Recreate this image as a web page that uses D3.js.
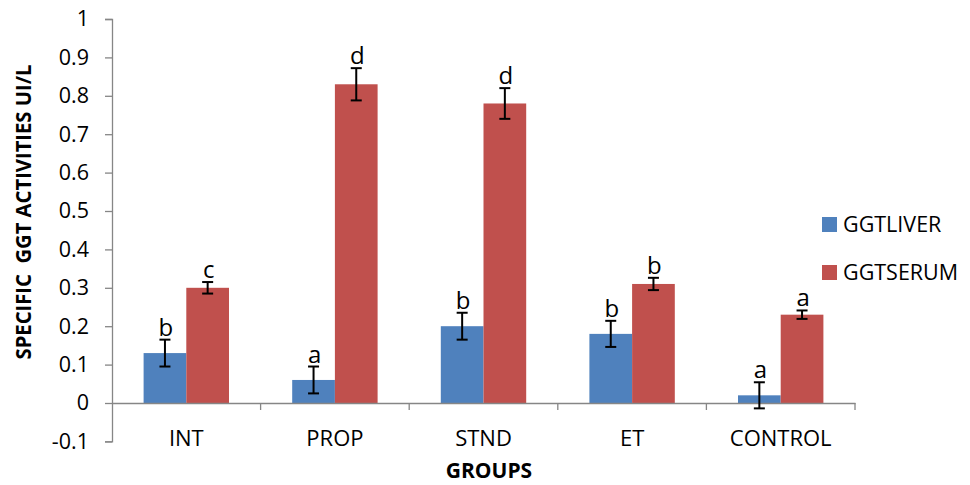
<!DOCTYPE html>
<html>
<head>
<meta charset="utf-8">
<script src="https://cdn.jsdelivr.net/npm/d3@7"></script>
<style>
  body { margin: 0; background: #fff; }
  svg text { font-family: "Open Sans", "Noto Sans", sans-serif; fill: #000; }
</style>
</head>
<body>
<div id="chart"></div>
<script>
// data
const groups = ['INT', 'PROP', 'STND', 'ET', 'CONTROL'];
const series = ['GGTLIVER', 'GGTSERUM'];
const liverValues = [0.13, 0.06, 0.20, 0.18, 0.02];
const serumValues = [0.30, 0.83, 0.78, 0.31, 0.23];
const liverErrors = [0.035, 0.035, 0.035, 0.034, 0.034];
const serumErrors = [0.015, 0.042, 0.040, 0.016, 0.011];
const liverLetters = ['b', 'a', 'b', 'b', 'a'];
const serumLetters = ['c', 'd', 'd', 'b', 'a'];
const yTicks = [-0.1, 0, 0.1, 0.2, 0.3, 0.4, 0.5, 0.6, 0.7, 0.8, 0.9, 1];

const colors = ['#4F81BD', '#C0504D'];
const axisColor = '#868686';

const width = 970, height = 485;
const plot = { left: 112, right: 855, top: 19, bottom: 441.4 };

const svg = d3.select('#chart')
    .append('svg')
    .attr('width', width)
    .attr('height', height);

const x0 = d3.scaleBand()
    .domain(groups)
    .range([plot.left, plot.right]);

const x1 = d3.scaleBand()
    .domain(series)
    .range([31.6, x0.bandwidth() - 31.6]);

const y = d3.scaleLinear()
    .domain([-0.1, 1])
    .range([plot.bottom, plot.top]);

// rows: one per group/series
const rows = [];
groups.forEach((g, i) => {
    rows.push({ group: g, s: series[0], v: liverValues[i], e: liverErrors[i], letter: liverLetters[i], color: colors[0] });
    rows.push({ group: g, s: series[1], v: serumValues[i], e: serumErrors[i], letter: serumLetters[i], color: colors[1] });
});

// bars
svg.append('g')
    .selectAll('rect')
    .data(rows)
    .enter()
    .append('rect')
    .attr('x', d => x0(d.group) + x1(d.s))
    .attr('y', d => y(Math.max(0, d.v)))
    .attr('width', x1.bandwidth())
    .attr('height', d => Math.abs(y(d.v) - y(0)))
    .attr('fill', d => d.color);

// y axis
const yAxis = d3.axisLeft(y)
    .tickValues(yTicks)
    .tickSize(7)
    .tickPadding(16)
    .tickFormat(d => String(+d.toFixed(1)));

const yG = svg.append('g')
    .attr('transform', `translate(${plot.left},0)`)
    .call(yAxis);
yG.select('.domain').attr('stroke', axisColor).attr('stroke-width', 1.3);
yG.selectAll('.tick line').attr('stroke', axisColor).attr('stroke-width', 1.3);
yG.selectAll('.tick text')
    .style('font-size', '21.5px')
    .attr('fill', '#000');

// x axis along zero
const xAxis = d3.axisBottom(x0)
    .tickSize(0)
    .tickPadding(0)
    .tickFormat('');
const xG = svg.append('g')
    .attr('transform', `translate(0,${y(0)})`)
    .call(xAxis);
xG.select('.domain').attr('stroke', axisColor).attr('stroke-width', 1.3);

// category boundary ticks
const bounds = groups.map(g => x0(g) + x0.bandwidth());
xG.selectAll('.bound')
    .data(bounds)
    .enter()
    .append('line')
    .attr('x1', d => d).attr('x2', d => d)
    .attr('y1', 0).attr('y2', 7)
    .attr('stroke', axisColor)
    .attr('stroke-width', 1.3);

// category labels
svg.append('g')
    .selectAll('text')
    .data(groups)
    .enter()
    .append('text')
    .attr('x', d => x0(d) + x0.bandwidth() / 2)
    .attr('y', 446)
    .attr('text-anchor', 'middle')
    .style('font-size', '22px')
    .text(d => d);

// error bars
const errG = svg.append('g');
rows.forEach(d => {
    const cx = x0(d.group) + x1(d.s) + x1.bandwidth() / 2;
    const yt = y(d.v + d.e), yb = y(d.v - d.e);
    errG.append('line')
        .attr('x1', cx).attr('x2', cx).attr('y1', yt).attr('y2', yb)
        .attr('stroke', '#000').attr('stroke-width', 2);
    [yt, yb].forEach(yy => {
        errG.append('line')
            .attr('x1', cx - 5.5).attr('x2', cx + 5.5).attr('y1', yy).attr('y2', yy)
            .attr('stroke', '#000').attr('stroke-width', 2);
    });
});

// significance letters
svg.append('g')
    .selectAll('text')
    .data(rows)
    .enter()
    .append('text')
    .attr('x', d => x0(d.group) + x1(d.s) + x1.bandwidth() / 2 + 1)
    .attr('y', d => y(d.v + d.e) - 4)
    .attr('text-anchor', 'middle')
    .style('font-size', '24px')
    .text(d => d.letter);

// axis titles
svg.append('text')
    .attr('x', 489)
    .attr('y', 478)
    .attr('text-anchor', 'middle')
    .style('font-size', '21px')
    .style('font-weight', 'bold')
    .text('GROUPS');

svg.append('text')
    .attr('transform', 'translate(31,212) rotate(-90)')
    .attr('text-anchor', 'middle')
    .attr('textLength', 295)
    .attr('lengthAdjust', 'spacingAndGlyphs')
    .attr('xml:space', 'preserve')
    .style('font-size', '21px')
    .style('font-weight', 'bold')
    .text('SPECIFIC  GGT ACTIVITIES UI/L');

// legend
const legend = svg.append('g')
    .selectAll('g')
    .data(series)
    .enter()
    .append('g')
    .attr('transform', (d, i) => `translate(822,${217 + i * 48})`);
legend.append('rect')
    .attr('width', 15).attr('height', 15)
    .attr('fill', (d, i) => colors[i]);
legend.append('text')
    .attr('x', 21)
    .attr('y', 15)
    .style('font-size', '21.5px')
    .text(d => d);
</script>
</body>
</html>
